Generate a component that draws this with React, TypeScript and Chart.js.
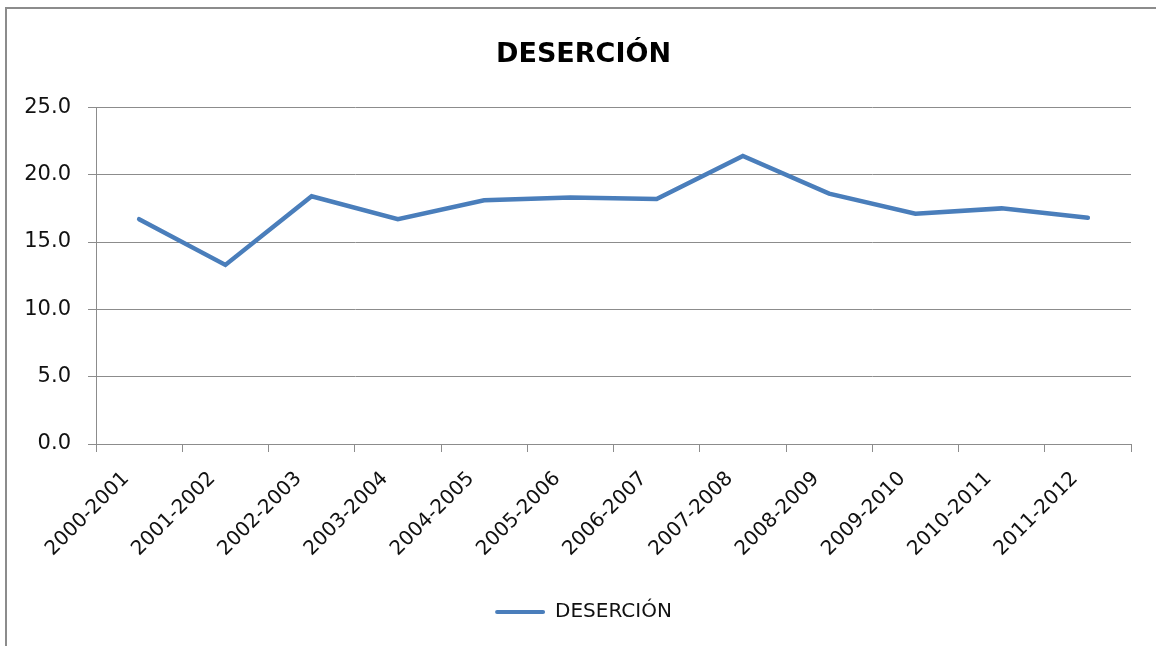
import React, { useEffect, useRef } from "react";
import { Chart, registerables } from "chart.js";

Chart.register(...registerables);

const categories = [
  "2000-2001", "2001-2002", "2002-2003", "2003-2004", "2004-2005", "2005-2006",
  "2006-2007", "2007-2008", "2008-2009", "2009-2010", "2010-2011", "2011-2012",
];
const desercion = [16.7, 13.3, 18.4, 16.7, 18.1, 18.3, 18.2, 21.4, 18.6, 17.1, 17.5, 16.8];
const seriesLabel = "DESERCIÓN";
const chartTitle = "DESERCIÓN";

const FONT = "'DejaVu Sans', sans-serif";
const GRID = "#8c8c8c";
const LINE = "#4A7EBB";
const PAD_LEFT = 9;
const CENTER_LEFT = 36;

const centerShift = {
  id: "centerShift",
  afterLayout(chart: any) {
    if (chart.titleBlock) chart.titleBlock.left = CENTER_LEFT;
    if (chart.legend) chart.legend.left = CENTER_LEFT;
  },
};

export default function App() {
  const ref = useRef<HTMLCanvasElement | null>(null);

  useEffect(() => {
    if (!ref.current) return;
    const chart = new Chart(ref.current, {
      type: "line",
      data: {
        labels: categories,
        datasets: [
          {
            label: seriesLabel,
            data: desercion,
            borderColor: LINE,
            backgroundColor: LINE,
            borderWidth: 4.5,
            pointRadius: 0,
            tension: 0,
            borderCapStyle: "round",
            borderJoinStyle: "miter",
          },
        ],
      },
      plugins: [centerShift],
      options: {
        responsive: false,
        animation: false,
        devicePixelRatio: 1,
        layout: { padding: { left: PAD_LEFT, right: 25, top: 0, bottom: 14 } },
        plugins: {
          title: {
            display: true,
            text: chartTitle,
            color: "#000",
            font: { family: FONT, size: 27, weight: "bold" },
            padding: { top: 39, bottom: 36 },
          },
          legend: {
            display: true,
            position: "bottom",
            labels: {
              color: "#111",
              font: { family: FONT, size: 20 },
              boxWidth: 50,
              boxHeight: 4,
              padding: 10,
              generateLabels: (c: any) =>
                Chart.defaults.plugins.legend.labels.generateLabels(c).map((l: any) => ({
                  ...l,
                  lineWidth: 0,
                  fillStyle: LINE,
                  strokeStyle: LINE,
                  borderRadius: 2,
                })),
            },
          },
          tooltip: { enabled: false },
        },
        scales: {
          x: {
            offset: true,
            grid: {
              offset: true,
              drawOnChartArea: false,
              drawTicks: true,
              tickLength: 8,
              color: GRID,
            },
            border: { color: GRID, width: 1 },
            ticks: {
              color: "#111",
              font: { family: FONT, size: 20 },
              maxRotation: 45,
              minRotation: 45,
              padding: 15,
              labelOffset: -13,
              autoSkip: false,
            },
            afterFit: (scale: any) => {
              scale.height = 148;
            },
          },
          y: {
            min: 0,
            max: 25,
            grid: { color: GRID, tickLength: 8, drawTicks: true },
            border: { color: GRID, width: 1 },
            ticks: {
              stepSize: 5,
              color: "#111",
              font: { family: FONT, size: 21 },
              padding: 17,
              callback: (v: any) => Number(v).toFixed(1),
            },
            afterFit: (scale: any) => {
              scale.width = 96 - PAD_LEFT;
            },
          },
        },
      },
    });
    return () => chart.destroy();
  }, []);

  return (
    <div
      style={{
        position: "fixed",
        left: 0,
        top: 0,
        width: 1156,
        height: 646,
        background: "#fff",
        overflow: "hidden",
      }}
    >
      <div
        style={{
          position: "absolute",
          left: 5,
          top: 7,
          width: 1300,
          height: 800,
          borderLeft: "2px solid #8c8c8c",
          borderTop: "2px solid #8c8c8c",
        }}
      />
      <canvas
        ref={ref}
        width={1156}
        height={646}
        style={{ position: "absolute", left: 0, top: 0, width: 1156, height: 646 }}
      />
    </div>
  );
}
